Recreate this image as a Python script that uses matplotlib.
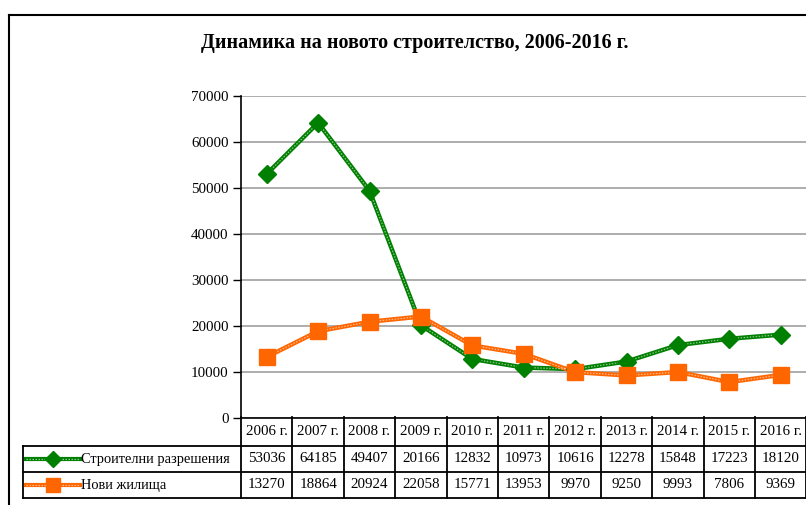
import matplotlib
matplotlib.use("Agg")
import matplotlib.pyplot as plt
import matplotlib.transforms as mtransforms
from matplotlib.lines import Line2D
import numpy as np

years = ["2006 г.", "2007 г.", "2008 г.", "2009 г.", "2010 г.", "2011 г.",
         "2012 г.", "2013 г.", "2014 г.", "2015 г.", "2016 г."]
permits = [53036, 64185, 49407, 20166, 12832, 10973, 10616, 12278, 15848, 17223, 18120]
dwellings = [13270, 18864, 20924, 22058, 15771, 13953, 9970, 9250, 9993, 7806, 9369]
series_names = ["Строителни разрешения", "Нови жилища"]
title = "Динамика на новото строителство, 2006-2016 г."
yticks = [0, 10000, 20000, 30000, 40000, 50000, 60000, 70000]

GREEN = "#008000"
ORANGE = "#FF6600"
FONT = ["Liberation Serif", "DejaVu Serif"]
plt.rcParams["font.family"] = FONT
FS = 10.8

W, H = 806, 505
fig = plt.figure(figsize=(W / 100, H / 100), dpi=100)

def fx(px):
    return px / W

def fy(py):
    return 1 - py / H

# outer chart border (cut at right/bottom)
fig.add_artist(Line2D([fx(9), fx(9)], [fy(15), fy(505)], color="black", lw=1.5, transform=fig.transFigure))
fig.add_artist(Line2D([fx(9), fx(806)], [fy(15), fy(15)], color="black", lw=1.5, transform=fig.transFigure))

left, right, top, bottom = 241, 806.4, 96, 418
ax = fig.add_axes([fx(left), fy(bottom), (right - left) / W, (bottom - top) / H])
n = len(years)
x = np.arange(n)
ax.set_xlim(-0.5, n - 0.5)
ax.set_ylim(0, 70000)
ax.set_yticks(yticks)
ax.set_yticklabels([str(v) for v in yticks], fontsize=FS)
ax.tick_params(axis="y", direction="out", length=6, width=1, pad=3)
ax.set_xticks([])
for s in ["top", "right"]:
    ax.spines[s].set_visible(False)
ax.spines["left"].set_linewidth(1.2)
ax.spines["bottom"].set_linewidth(1.2)
ax.yaxis.grid(True, color="#a0a0a0", lw=1.2)
ax.set_axisbelow(True)

def draw_series(vals, color, marker, ms):
    ax.plot(x, vals, color=color, lw=3.2, zorder=3, solid_capstyle="butt")
    ax.plot(x, vals, color="white", lw=0.9, alpha=0.55, dashes=(1.2, 1.2), zorder=4)
    ax.plot(x, vals, linestyle="none", marker=marker, markersize=ms,
            markerfacecolor=color, markeredgecolor=color, zorder=5)

draw_series(permits, GREEN, "D", 9.5)
draw_series(dwellings, ORANGE, "s", 11)

fig.text(fx(415), fy(43), title, ha="center", va="center", fontsize=14.5, fontweight="bold")

# data table
rows_y = [417, 446, 472, 498]
blend = mtransforms.blended_transform_factory(ax.transData, fig.transFigure)
lab_left = 23
lw_t = 1.3
for i, yy in enumerate(rows_y):
    if i == 0:
        continue
    fig.add_artist(Line2D([fx(lab_left), fx(806)], [fy(yy), fy(yy)], color="black", lw=lw_t, transform=fig.transFigure))
for b in np.arange(n + 1) - 0.5:
    fig.add_artist(Line2D([b, b], [fy(rows_y[0]), fy(rows_y[-1])], color="black", lw=lw_t, transform=blend))
fig.add_artist(Line2D([fx(lab_left), fx(lab_left)], [fy(rows_y[1]), fy(rows_y[-1])], color="black", lw=lw_t, transform=fig.transFigure))

for i, yr in enumerate(years):
    fig.text(0, 0, yr, transform=blend, fontsize=FS, ha="center", va="center").set_position((x[i], fy((rows_y[0] + rows_y[1]) / 2)))

for r, (vals, color, marker, ms, name) in enumerate([
        (permits, GREEN, "D", 8, series_names[0]),
        (dwellings, ORANGE, "s", 10, series_names[1])]):
    yc = fy((rows_y[r + 1] + rows_y[r + 2]) / 2)
    for i, v in enumerate(vals):
        fig.text(0, 0, str(v), transform=blend, fontsize=FS, ha="center", va="center").set_position((x[i], yc))
    fig.add_artist(Line2D([fx(26), fx(80)], [yc, yc], color=color, lw=3, transform=fig.transFigure))
    fig.add_artist(Line2D([fx(26), fx(80)], [yc, yc], color="white", lw=0.9, alpha=0.55, dashes=(1.2, 1.2), transform=fig.transFigure))
    fig.add_artist(Line2D([fx(53)], [yc], marker=marker, markersize=ms, color=color, linestyle="none", transform=fig.transFigure))
    fig.text(fx(81), yc, name, fontsize=10.4, ha="left", va="center")

fig.savefig("out.png", dpi=100)
